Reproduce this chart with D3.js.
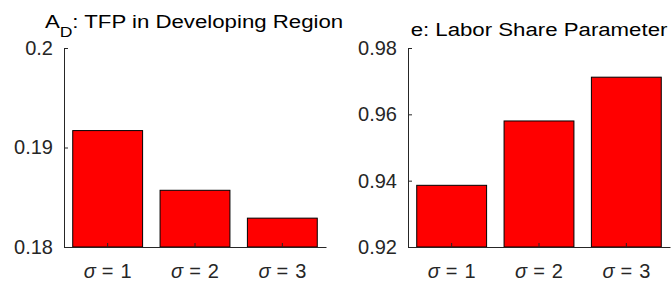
<!DOCTYPE html>
<html>
<head>
<meta charset="utf-8">
<script src="https://cdn.jsdelivr.net/npm/d3@7"></script>
<style>
  html, body { margin: 0; padding: 0; background: #fff; }
  svg { display: block; font-family: Arial, "Liberation Sans", Helvetica, sans-serif; }
</style>
</head>
<body>
<svg id="chart" width="672" height="282"></svg>
<script>
// ---- data ----
const categories = ["1", "2", "3"];               // sigma values
const tfpValues = [0.1917, 0.1857, 0.1829];        // A_D: TFP in Developing Region
const laborShareValues = [0.9386, 0.9580, 0.9712]; // e: Labor Share Parameter
const tfpTicks = [0.18, 0.19, 0.2];
const tfpTickLabels = ["0.18", "0.19", "0.2"];
const laborTicks = [0.92, 0.94, 0.96, 0.98];
const laborTickLabels = ["0.92", "0.94", "0.96", "0.98"];

const svg = d3.select("#chart");
const ink = "#262626";

function panel(opts) {
  const { left, right, top, bottom, domain, values, ticks, tickLabels } = opts;
  const g = svg.append("g");
  const x = d3.scaleBand().domain(categories).range([left, right])
    .paddingInner(0.2).paddingOuter(0.1);
  const y = d3.scaleLinear().domain(domain).range([bottom, top]);

  g.selectAll("rect.bar").data(values).join("rect")
    .attr("class", "bar")
    .attr("x", (d, i) => x(categories[i]))
    .attr("width", x.bandwidth())
    .attr("y", d => y(d))
    .attr("height", d => y(domain[0]) - y(d))
    .attr("fill", "#ff0000")
    .attr("stroke", "#000")
    .attr("stroke-width", 1);

  // y axis
  const ya = g.append("g").attr("transform", `translate(${left},0)`)
    .call(d3.axisLeft(y).tickValues(ticks)
      .tickFormat((d, i) => tickLabels[i])
      .tickSizeInner(-4).tickSizeOuter(0).tickPadding(11));
  ya.select(".domain").attr("stroke", ink);
  ya.selectAll(".tick line").attr("stroke", ink);
  ya.selectAll(".tick text").attr("fill", ink).attr("font-size", 20)
    .attr("font-family", "Arial, 'Liberation Sans', sans-serif");

  // x axis
  const xa = g.append("g").attr("transform", `translate(0,${bottom})`)
    .call(d3.axisBottom(x).tickSizeInner(-4).tickSizeOuter(0).tickPadding(17));
  xa.select(".domain").attr("stroke", ink);
  xa.selectAll(".tick line").attr("stroke", ink);
  xa.selectAll(".tick text").attr("fill", ink).attr("font-size", 20)
    .attr("font-family", "Arial, 'Liberation Sans', sans-serif")
    .each(function (d) {
      const t = d3.select(this);
      t.text(null);
      t.append("tspan").attr("font-style", "italic").text("σ");
      t.append("tspan").attr("dx", 6).text("=");
      t.append("tspan").attr("dx", 7).text(d);
    });
  return { g, x, y };
}

panel({ left: 64, right: 326, top: 48, bottom: 247, domain: [0.18, 0.2],
  values: tfpValues, ticks: tfpTicks, tickLabels: tfpTickLabels });
panel({ left: 408, right: 670, top: 48, bottom: 247, domain: [0.92, 0.98],
  values: laborShareValues, ticks: laborTicks, tickLabels: laborTickLabels });

// titles (slightly wide lettering, as in the reference)
const sx = 1.17;
const g1 = svg.append("g").attr("transform", `translate(194,28) scale(${sx},1)`);
const t1 = g1.append("text").attr("x", 0).attr("y", 0)
  .attr("text-anchor", "middle").attr("font-size", 19).attr("fill", "#000");
t1.append("tspan").text("A");
t1.append("tspan").attr("font-size", 15).attr("dy", 9).text("D");
t1.append("tspan").attr("dy", -9).text(": TFP in Developing Region");

svg.append("g").attr("transform", `translate(539,36) scale(${sx},1)`)
  .append("text").attr("x", 0).attr("y", 0)
  .attr("text-anchor", "middle").attr("font-size", 19).attr("fill", "#000")
  .text("e: Labor Share Parameter");
</script>
</body>
</html>
